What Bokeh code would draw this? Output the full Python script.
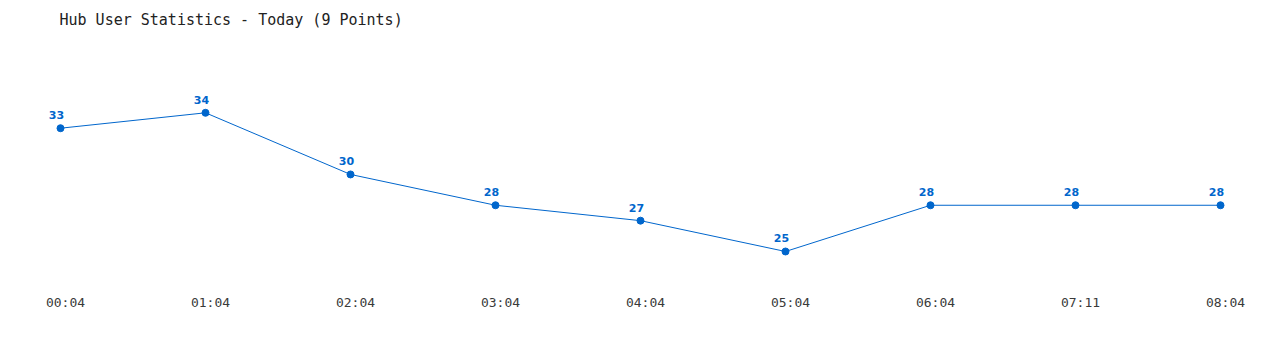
from bokeh.plotting import figure
from bokeh.models import Range1d, Label, ColumnDataSource
from bokeh.core.properties import value
from bokeh.embed import file_html
from bokeh.resources import INLINE

# ---- data ----
times = ["00:04", "01:04", "02:04", "03:04", "04:04", "05:04", "06:04", "07:11", "08:04"]
users = [33, 34, 30, 28, 27, 25, 28, 28, 28]
title_text = "Hub User Statistics - Today (9 Points)"

W, H = 1280, 350
BLUE = "#0066cc"

idx = list(range(len(times)))

# scale: x index -> pixel 60 + 145*i ; y value -> pixel 112.3 + (34 - v) * 15.41
x_px0, x_step = 60.0, 145.0
y_ref_px, y_ref_val, y_step = 112.3, 34.0, 15.41
x_start = -x_px0 / x_step
x_end = (W - x_px0) / x_step
y_end = y_ref_val + y_ref_px / y_step
y_start = y_ref_val - (H - y_ref_px) / y_step
label_row_val = y_ref_val - (302 - y_ref_px) / y_step

p = figure(width=W, height=H, output_backend="svg", toolbar_location=None,
           x_range=Range1d(x_start, x_end), y_range=Range1d(y_start, y_end),
           min_border=0, min_border_left=0, min_border_right=0,
           min_border_top=0, min_border_bottom=0)
p.axis.visible = False
p.grid.visible = False
p.outline_line_color = None
p.background_fill_color = "white"
p.border_fill_color = "white"

src = ColumnDataSource(dict(x=idx, y=users, lab=[str(v) for v in users]))
p.line("x", "y", source=src, line_color=BLUE, line_width=1)
p.scatter("x", "y", source=src, size=7, fill_color=BLUE, line_color=BLUE)
p.text("x", "y", text="lab", source=src, x_offset=-4, y_offset=-13,
       text_align="center", text_baseline="middle",
       text_font=value("DejaVu Sans"), text_font_style="bold",
       text_font_size="11px", text_color=BLUE)

tsrc = ColumnDataSource(dict(x=idx, y=[label_row_val] * len(times), lab=times))
p.text("x", "y", text="lab", source=tsrc, x_offset=5,
       text_align="center", text_baseline="middle",
       text_font=value("DejaVu Sans Mono"), text_font_size="13px",
       text_color="#3a3a3a")

p.add_layout(Label(x=59, y=H - 19.5, x_units="screen", y_units="screen",
                   text=title_text, text_font="DejaVu Sans Mono",
                   text_font_size="15px", text_color="#222222",
                   text_baseline="alphabetic", text_align="left"))

open("out.html", "w").write(file_html(p, INLINE))
